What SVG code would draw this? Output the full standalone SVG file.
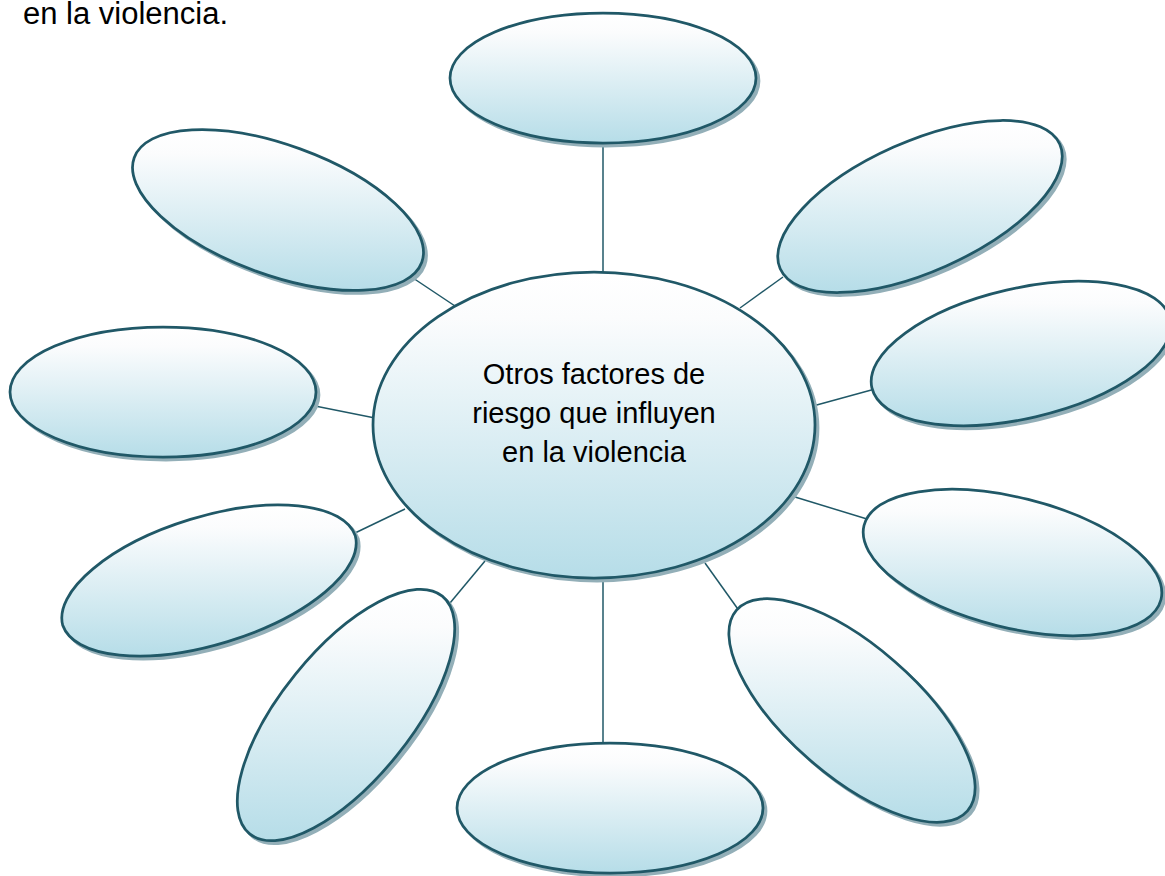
<svg xmlns="http://www.w3.org/2000/svg" width="1165" height="876" viewBox="0 0 1165 876">
  <defs>
    <linearGradient id="fillGrad" x1="0" y1="0" x2="0" y2="1">
      <stop offset="0" stop-color="#ffffff"/>
      <stop offset="0.15" stop-color="#fbfcfd"/>
      <stop offset="1" stop-color="#b6dde8"/>
    </linearGradient>
    <style>
      .node { fill: url(#fillGrad); stroke: #205867; stroke-width: 2.75; }
      .shadow { fill: #93afb8; stroke: #93afb8; stroke-width: 2.75; }
      .conn { stroke: #205867; stroke-width: 1.5; fill: none; }
      .label { font-family: "Liberation Sans", Arial, sans-serif; fill: #000000; }
    </style>
  </defs>
  <rect x="0" y="0" width="1165" height="876" fill="#ffffff"/>

  <text class="label" x="23" y="24" font-size="31">en la violencia.</text>

  <g id="connectors">
    <line class="conn" x1="603" y1="143" x2="603" y2="273"/>
    <line class="conn" x1="603" y1="578" x2="603" y2="744"/>
    <line class="conn" x1="413" y1="278" x2="458" y2="308"/>
    <line class="conn" x1="740" y1="308" x2="783" y2="277"/>
    <line class="conn" x1="315" y1="406" x2="375" y2="418"/>
    <line class="conn" x1="813" y1="406" x2="875" y2="389"/>
    <line class="conn" x1="355" y1="533" x2="405" y2="509"/>
    <line class="conn" x1="795" y1="497" x2="867" y2="519"/>
    <line class="conn" x1="450" y1="603" x2="485" y2="561"/>
    <line class="conn" x1="705" y1="563" x2="740" y2="612"/>
  </g>

  <g id="node-top">
    <ellipse class="shadow" cx="606" cy="81" rx="153" ry="65"/>
    <ellipse class="node" cx="603" cy="78" rx="153" ry="65"/>
  </g>

  <g id="node-bottom">
    <ellipse class="shadow" cx="613" cy="811" rx="153" ry="65"/>
    <ellipse class="node" cx="610" cy="808" rx="153" ry="65"/>
  </g>

  <g id="node-left">
    <ellipse class="shadow" cx="166" cy="395" rx="153" ry="65"/>
    <ellipse class="node" cx="163" cy="392" rx="153" ry="65"/>
  </g>

  <g id="node-top-left">
    <path class="shadow" transform="translate(3,3)" d="M134.2,157.7 A153,65 20 0 1 421.8,262.3 A153,65 20 0 1 134.2,157.7 Z"/>
    <path class="node" d="M134.2,157.7 A153,65 20 0 1 421.8,262.3 A153,65 20 0 1 134.2,157.7 Z"/>
  </g>

  <g id="node-top-right">
    <path class="shadow" transform="translate(3,3)" d="M780.2,268.7 A153,65 -24 0 1 1059.8,144.3 A153,65 -24 0 1 780.2,268.7 Z"/>
    <path class="node" d="M780.2,268.7 A153,65 -24 0 1 1059.8,144.3 A153,65 -24 0 1 780.2,268.7 Z"/>
  </g>

  <g id="node-right">
    <path class="shadow" transform="translate(3,3)" d="M871.9,387.9 A153,65 -13 0 1 1170.1,319.1 A153,65 -13 0 1 871.9,387.9 Z"/>
    <path class="node" d="M871.9,387.9 A153,65 -13 0 1 1170.1,319.1 A153,65 -13 0 1 871.9,387.9 Z"/>
  </g>

  <g id="node-lower-right">
    <path class="shadow" transform="translate(3,3)" d="M864,525.5 A153,65 14 0 1 1161,599.5 A153,65 14 0 1 864,525.5 Z"/>
    <path class="node" d="M864,525.5 A153,65 14 0 1 1161,599.5 A153,65 14 0 1 864,525.5 Z"/>
  </g>

  <g id="node-lower-left">
    <path class="shadow" transform="translate(3,3)" d="M62.7,625.2 A153,65 -17 0 1 355.3,535.8 A153,65 -17 0 1 62.7,625.2 Z"/>
    <path class="node" d="M62.7,625.2 A153,65 -17 0 1 355.3,535.8 A153,65 -17 0 1 62.7,625.2 Z"/>
  </g>

  <g id="node-bottom-left">
    <path class="shadow" transform="translate(3,3)" d="M249.7,833.9 A153,65 -51 0 1 442.3,596.1 A153,65 -51 0 1 249.7,833.9 Z"/>
    <path class="node" d="M249.7,833.9 A153,65 -51 0 1 442.3,596.1 A153,65 -51 0 1 249.7,833.9 Z"/>
  </g>

  <g id="node-bottom-right">
    <path class="shadow" transform="translate(3,3)" d="M736.5,610.1 A153,65 41 0 1 967.5,810.9 A153,65 41 0 1 736.5,610.1 Z"/>
    <path class="node" d="M736.5,610.1 A153,65 41 0 1 967.5,810.9 A153,65 41 0 1 736.5,610.1 Z"/>
  </g>

  <g id="node-center">
    <ellipse class="shadow" cx="597" cy="428" rx="221" ry="153"/>
    <ellipse class="node" cx="594" cy="425" rx="221" ry="153"/>
    <text class="label" x="594" y="384" font-size="29" text-anchor="middle">Otros factores de</text>
    <text class="label" x="594" y="423" font-size="29" text-anchor="middle">riesgo que influyen</text>
    <text class="label" x="594" y="462" font-size="29" text-anchor="middle">en la violencia</text>
  </g>
</svg>
